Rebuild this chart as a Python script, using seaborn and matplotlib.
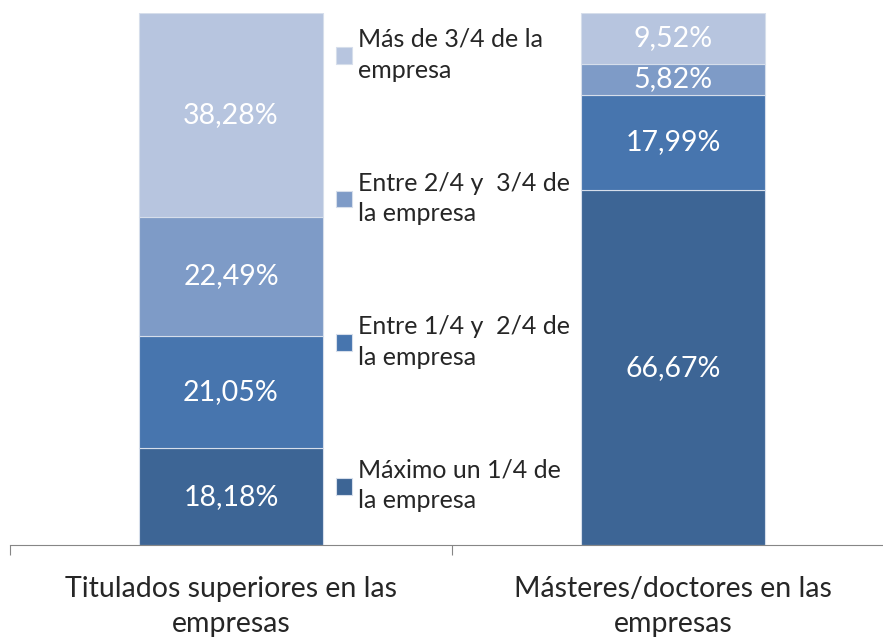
import matplotlib
matplotlib.use("Agg")
import matplotlib.pyplot as plt
import seaborn as sns
import numpy as np

categories = ["Titulados superiores en las\nempresas", "Másteres/doctores en las\nempresas"]
series_names = [
    "Máximo un 1/4 de\nla empresa",
    "Entre 1/4 y  2/4 de\nla empresa",
    "Entre 2/4 y  3/4 de\nla empresa",
    "Más de 3/4 de la\nempresa",
]
max_cuarto = [18.18, 66.67]
entre_1_2 = [21.05, 17.99]
entre_2_3 = [22.49, 5.82]
mas_3_4 = [38.28, 9.52]
series_values = [max_cuarto, entre_1_2, entre_2_3, mas_3_4]
colors = ["#3d6595", "#4775ae", "#7e9bc7", "#b7c5df"]

sns.set_style("white")
plt.rcParams['font.family'] = ['Lato', 'DejaVu Sans']

fig = plt.figure(figsize=(8.83, 6.39), dpi=100)
ax = fig.add_axes([10 / 883, 94 / 639, 884 / 883, 532 / 639])

bottom = np.zeros(len(categories))
for name, vals, col in zip(series_names, series_values, colors):
    sns.barplot(x=categories, y=vals, bottom=bottom, color=col, width=0.416,
                saturation=1, edgecolor="#d6deeb", linewidth=0.8, label=name, ax=ax)
    for i, v in enumerate(vals):
        ax.text(i, bottom[i] + v / 2, f"{v:.2f}%".replace(".", ","),
                ha="center", va="center", color="white", fontsize=20.5)
    bottom = bottom + np.array(vals)

ax.set_ylim(0, 100)
ax.set_xlim(-0.5, 1.5)
ax.set_yticks([])
for s in ["top", "right", "left"]:
    ax.spines[s].set_visible(False)
ax.spines["bottom"].set_color("#868686")

ax.set_xticks([-0.5, 0.5, 1.5])
ax.set_xticklabels([])
ax.tick_params(axis="x", which="major", direction="out", length=7.5, color="#868686", bottom=True)
ax.set_xticks([0, 1], minor=True)
ax.set_xticklabels(categories, minor=True, fontsize=20.5, linespacing=1.45)
ax.tick_params(axis="x", which="minor", length=0, pad=22)

handles, labels = ax.get_legend_handles_labels()
leg = ax.legend(handles[::-1], labels[::-1], frameon=False, fontsize=18,
                loc="upper left", bbox_to_anchor=(336 / 883, 1 - 28 / 639),
                bbox_transform=fig.transFigure, borderpad=0, borderaxespad=0,
                handlelength=0.65, handleheight=0.65, handletextpad=0.22,
                labelspacing=3.6)
for t in leg.get_texts():
    t.set_linespacing(1.4)

fig.savefig("out.png", dpi=100)
